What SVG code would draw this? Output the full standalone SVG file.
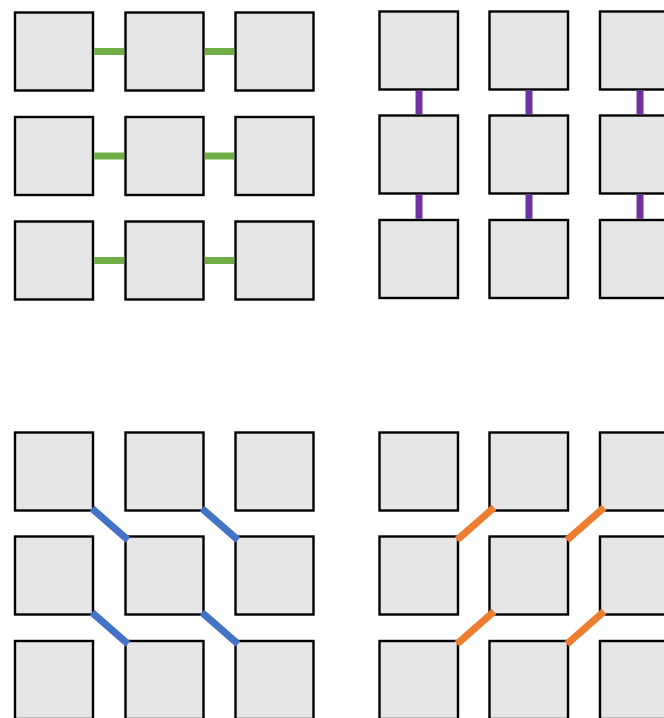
<svg xmlns="http://www.w3.org/2000/svg" width="664" height="718" viewBox="0 0 664 718">
<style>
.b{fill:#E5E5E5;stroke:#000;stroke-width:2.4}
.c{stroke-width:7;fill:none}
.g{stroke:#70AD47}.p{stroke:#7030A0}.bl{stroke:#4472C4}.o{stroke:#ED7D31}
</style>
<rect width="664" height="718" fill="#fff"/>
<g id="tl11"><rect class="b" x="15" y="12.5" width="78" height="78"/></g>
<g id="tl12"><rect class="b" x="125.5" y="12.5" width="78" height="78"/></g>
<g id="tl13"><rect class="b" x="235.5" y="12.5" width="78" height="78"/></g>
<g id="tl21"><rect class="b" x="15" y="117" width="78" height="78"/></g>
<g id="tl22"><rect class="b" x="125.5" y="117" width="78" height="78"/></g>
<g id="tl23"><rect class="b" x="235.5" y="117" width="78" height="78"/></g>
<g id="tl31"><rect class="b" x="15" y="221.5" width="78" height="78"/></g>
<g id="tl32"><rect class="b" x="125.5" y="221.5" width="78" height="78"/></g>
<g id="tl33"><rect class="b" x="235.5" y="221.5" width="78" height="78"/></g>
<g id="tr11"><rect class="b" x="379.5" y="11.5" width="78.5" height="78"/></g>
<g id="tr12"><rect class="b" x="489.5" y="11.5" width="78.5" height="78"/></g>
<g id="tr13"><rect class="b" x="600" y="11.5" width="78.5" height="78"/></g>
<g id="tr21"><rect class="b" x="379.5" y="115.5" width="78.5" height="78"/></g>
<g id="tr22"><rect class="b" x="489.5" y="115.5" width="78.5" height="78"/></g>
<g id="tr23"><rect class="b" x="600" y="115.5" width="78.5" height="78"/></g>
<g id="tr31"><rect class="b" x="379.5" y="220" width="78.5" height="78"/></g>
<g id="tr32"><rect class="b" x="489.5" y="220" width="78.5" height="78"/></g>
<g id="tr33"><rect class="b" x="600" y="220" width="78.5" height="78"/></g>
<g id="bl11"><rect class="b" x="15" y="432.5" width="78" height="78"/></g>
<g id="bl12"><rect class="b" x="125.5" y="432.5" width="78" height="78"/></g>
<g id="bl13"><rect class="b" x="235.5" y="432.5" width="78" height="78"/></g>
<g id="bl21"><rect class="b" x="15" y="536.5" width="78" height="78"/></g>
<g id="bl22"><rect class="b" x="125.5" y="536.5" width="78" height="78"/></g>
<g id="bl23"><rect class="b" x="235.5" y="536.5" width="78" height="78"/></g>
<g id="bl31"><rect class="b" x="15" y="641" width="78" height="78"/></g>
<g id="bl32"><rect class="b" x="125.5" y="641" width="78" height="78"/></g>
<g id="bl33"><rect class="b" x="235.5" y="641" width="78" height="78"/></g>
<g id="br11"><rect class="b" x="379.5" y="432.5" width="78.5" height="78"/></g>
<g id="br12"><rect class="b" x="489.5" y="432.5" width="78.5" height="78"/></g>
<g id="br13"><rect class="b" x="600" y="432.5" width="78.5" height="78"/></g>
<g id="br21"><rect class="b" x="379.5" y="536.5" width="78.5" height="78"/></g>
<g id="br22"><rect class="b" x="489.5" y="536.5" width="78.5" height="78"/></g>
<g id="br23"><rect class="b" x="600" y="536.5" width="78.5" height="78"/></g>
<g id="br31"><rect class="b" x="379.5" y="641" width="78.5" height="78"/></g>
<g id="br32"><rect class="b" x="489.5" y="641" width="78.5" height="78"/></g>
<g id="br33"><rect class="b" x="600" y="641" width="78.5" height="78"/></g>
<g id="connectors">
<line class="c g" x1="94.2" y1="51.5" x2="124.3" y2="51.5"/>
<line class="c g" x1="204.7" y1="51.5" x2="234.3" y2="51.5"/>
<line class="c g" x1="94.2" y1="156" x2="124.3" y2="156"/>
<line class="c g" x1="204.7" y1="156" x2="234.3" y2="156"/>
<line class="c g" x1="94.2" y1="260.5" x2="124.3" y2="260.5"/>
<line class="c g" x1="204.7" y1="260.5" x2="234.3" y2="260.5"/>
<line class="c p" x1="419" y1="90.7" x2="419" y2="114.3"/>
<line class="c p" x1="529" y1="90.7" x2="529" y2="114.3"/>
<line class="c p" x1="640" y1="90.7" x2="640" y2="114.3"/>
<line class="c p" x1="419" y1="194.7" x2="419" y2="218.8"/>
<line class="c p" x1="529" y1="194.7" x2="529" y2="218.8"/>
<line class="c p" x1="640" y1="194.7" x2="640" y2="218.8"/>
<line class="c bl" x1="92" y1="508.5" x2="128" y2="540"/>
<line class="c bl" x1="202" y1="508.5" x2="238" y2="540"/>
<line class="c bl" x1="92" y1="612.5" x2="128" y2="644"/>
<line class="c bl" x1="202" y1="612.5" x2="238" y2="644"/>
<line class="c o" x1="457" y1="540" x2="494" y2="507.5"/>
<line class="c o" x1="567" y1="540" x2="604" y2="507.5"/>
<line class="c o" x1="457" y1="644" x2="494" y2="611.5"/>
<line class="c o" x1="567" y1="644" x2="604" y2="611.5"/>
</g>
</svg>
